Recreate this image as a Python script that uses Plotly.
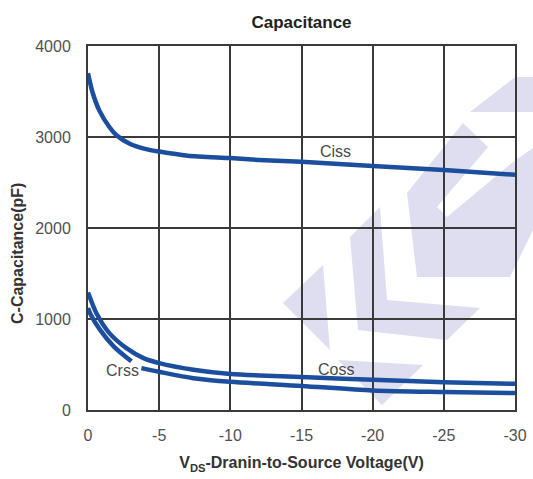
import plotly.graph_objects as go

# ---- data ----
ciss_v = [0, -0.3, -0.8, -1.5, -2, -3, -4, -5, -7, -10, -12, -15, -20, -25, -30]
ciss_c = [3700, 3500, 3290, 3110, 3020, 2920, 2870, 2840, 2795, 2768, 2748, 2728, 2682, 2637, 2585]

coss_v = [0, -0.15, -0.6, -1.5, -2.7, -3.9, -5, -7.4, -10, -15, -20, -25, -30]
coss_c = [1290, 1230, 1060, 845, 680, 570, 515, 442, 395, 363, 332, 305, 288]

crss_v = [0, -0.15, -0.85, -1.8, -3.05, None, -3.75, -5, -7.4, -10, -15, -20, -25, -30]
crss_c = [1120, 1060, 880, 700, 535, None, 460, 420, 350, 310, 265, 215, 198, 187]

x_ticks = [0, -5, -10, -15, -20, -25, -30]
y_ticks = [0, 1000, 2000, 3000, 4000]

labels = ["Ciss", "Coss", "Crss"]
label_v = [-17.4, -17.4, -2.4]
label_c = [2838, 440, 432]

# ---- layout geometry ----
W, H = 533, 479
L, R, T, B = 88, 18, 46, 69
PW, PH = W - L - R, H - T - B

LINE = "rgb(28,78,158)"
GRID = "#3a3a3a"
FONT = "Liberation Sans, Arial, sans-serif"

fig = go.Figure()
for xs, ys in [(ciss_v, ciss_c), (coss_v, coss_c), (crss_v, crss_c)]:
    fig.add_trace(go.Scatter(x=xs, y=ys, mode="lines",
                             line=dict(color=LINE, width=4.5, shape="spline", smoothing=0.8),
                             connectgaps=False, showlegend=False, hoverinfo="skip"))

for t, xv, yv in zip(labels, label_v, label_c):
    fig.add_annotation(x=xv, y=yv, text=t, showarrow=False,
                       font=dict(family=FONT, size=16, color="#4a4a4a"))

# watermark (decorative, pixel coords -> paper)
def to_paper(pts):
    return [((px - L) / PW, (H - B - py) / PH) for px, py in pts]

wm_polys = [
    [(470, 112), (515, 77), (533, 77), (533, 112)],
    [(283, 303), (323, 265), (330, 350)],
    [(350, 237), (380, 207), (387, 300), (480, 308), (447, 340), (358, 330)],
    [(338, 360), (423, 365), (382, 405)],
    [(407, 193), (463, 123), (488, 147), (437, 207), (447, 217), (513, 162),
     (533, 148), (533, 230), (510, 277), (417, 277)],
]
for poly in wm_polys:
    pp = to_paper(poly)
    path = "M " + " L ".join(f"{x:.4f},{y:.4f}" for x, y in pp) + " Z"
    fig.add_shape(type="path", path=path, xref="paper", yref="paper",
                  fillcolor="rgb(222,222,240)", line=dict(width=0), layer="below")

fig.update_layout(
    width=W, height=H,
    margin=dict(l=L, r=R, t=T, b=B, autoexpand=False),
    paper_bgcolor="white", plot_bgcolor="white",
    title=dict(text="<b>Capacitance</b>", x=(L + PW / 2) / W, xanchor="center",
               y=1 - 22 / H, yanchor="middle",
               font=dict(family=FONT, size=17, color="#222")),
    font=dict(family=FONT, color="#4a4a4a"),
)

fig.update_xaxes(range=[0, -30], tickvals=x_ticks, ticktext=[str(v) for v in x_ticks],
                 showgrid=True, gridcolor=GRID, gridwidth=2, automargin=False,
                 showline=True, linecolor=GRID, linewidth=2, mirror=True,
                 zeroline=False, ticks="", ticklabelstandoff=10,
                 tickfont=dict(family=FONT, size=16, color="#505050"),
                 title=dict(text="<b>V<sub>DS</sub>-Dranin-to-Source Voltage(V)</b>",
                            font=dict(family=FONT, size=16, color="#333"), standoff=14))
fig.update_yaxes(range=[0, 4000], tickvals=y_ticks, ticktext=[str(v) for v in y_ticks],
                 showgrid=True, gridcolor=GRID, gridwidth=2, automargin=False,
                 showline=True, linecolor=GRID, linewidth=2, mirror=True,
                 zeroline=False, ticks="", ticklabelstandoff=12,
                 tickfont=dict(family=FONT, size=16, color="#505050"))

fig.add_annotation(text="<b>C-Capacitance(pF)</b>", xref="paper", yref="paper",
                   x=(17 - L) / PW, y=(H - B - 254) / PH, textangle=-90,
                   showarrow=False, xanchor="center", yanchor="middle",
                   font=dict(family=FONT, size=16, color="#333"))

fig.write_html("out.html")
